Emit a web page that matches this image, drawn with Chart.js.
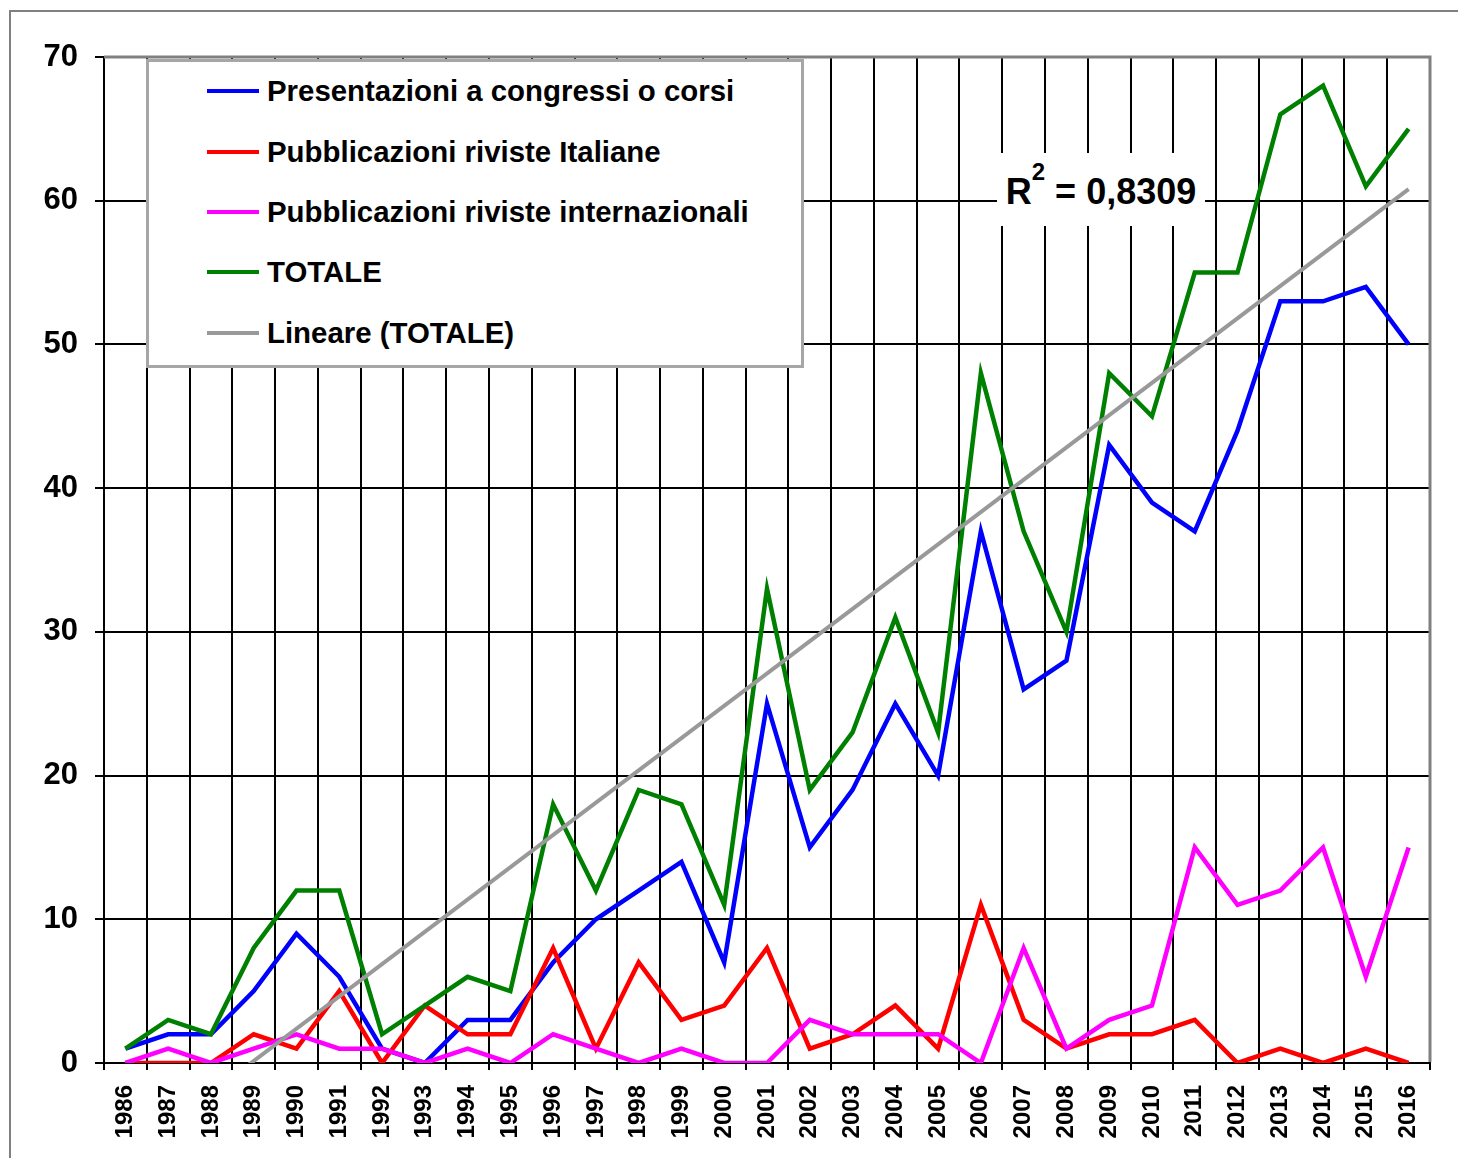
<!DOCTYPE html>
<html>
<head>
<meta charset="utf-8">
<script src="https://cdn.jsdelivr.net/npm/chart.js@4.4.1/dist/chart.umd.min.js"></script>
<style>
html,body{margin:0;padding:0;background:#fff;overflow:hidden;}
#wrap{position:relative;width:1458px;height:1158px;overflow:hidden;}
#frame{position:absolute;left:9px;top:10px;width:1600px;height:1600px;border:2px solid #808080;box-sizing:border-box;}
#c{position:absolute;left:0;top:0;}
#legend{position:absolute;left:146px;top:59px;width:658px;height:309px;border:3px solid #a6a6a6;background:#fff;box-sizing:border-box;font-family:"Liberation Sans",Arial,sans-serif;font-weight:bold;font-size:29.4px;color:#000;}
.sw{position:absolute;left:58px;width:52px;height:4px;}
.lt{position:absolute;left:118px;height:40px;line-height:40px;white-space:nowrap;}
#r2{position:absolute;left:997px;top:153px;width:208px;height:73px;background:#fff;font-family:"Liberation Sans",Arial,sans-serif;font-weight:bold;font-size:36px;color:#000;display:flex;align-items:center;justify-content:center;white-space:nowrap;padding-top:4px;box-sizing:border-box;}
#r2 sup{font-size:24px;vertical-align:baseline;position:relative;top:-20px;line-height:0;}
</style>
</head>
<body>
<div id="wrap">
  <div id="frame"></div>
  <canvas id="c" width="1458" height="1158"></canvas>
  <div id="legend"></div>
  <div id="r2">R<sup>2</sup>&nbsp;= 0,8309</div>
</div>
<script>
const categories = ['1986','1987','1988','1989','1990','1991','1992','1993','1994','1995','1996','1997','1998','1999','2000','2001','2002','2003','2004','2005','2006','2007','2008','2009','2010','2011','2012','2013','2014','2015','2016'];
const presentazioni = [1,2,2,5,9,6,1,0,3,3,7,10,12,14,7,25,15,19,25,20,37,26,28,43,39,37,44,53,53,54,50];
const italiane = [0,0,0,2,1,5,0,4,2,2,8,1,7,3,4,8,1,2,4,1,11,3,1,2,2,3,0,1,0,1,0];
const internazionali = [0,1,0,1,2,1,1,0,1,0,2,1,0,1,0,0,3,2,2,2,0,8,1,3,4,15,11,12,15,6,15];
const totale = [1,3,2,8,12,12,2,4,6,5,18,12,19,18,11,33,19,23,31,23,48,37,30,48,45,55,55,66,68,61,65];
// linear trend of TOTALE, values read at first and last year
const trendEnds = [-6.6, 60.8];
const yTicks = [0,10,20,30,40,50,60,70];
const seriesNames = ['Presentazioni a congressi o corsi','Pubblicazioni riviste Italiane','Pubblicazioni riviste internazionali','TOTALE','Lineare (TOTALE)'];
const seriesColors = ['#0000ff','#ff0000','#ff00ff','#008000','#999999'];

const trendData = categories.map((c,i)=> i===0 ? trendEnds[0] : (i===categories.length-1 ? trendEnds[1] : null));
const seriesData = [presentazioni, italiane, internazionali, totale, trendData];
const drawOrder = [4,3,2,1,0];

Chart.defaults.font.family = '"Liberation Sans", Arial, sans-serif';
Chart.defaults.color = '#000';

const plotBorder = {
  id:'plotBorder',
  beforeDatasetsDraw(chart){
    const a = chart.chartArea, ctx = chart.ctx;
    ctx.save();
    ctx.strokeStyle = '#808080';
    ctx.lineWidth = 3;
    ctx.beginPath();
    ctx.moveTo(a.left, a.top);
    ctx.lineTo(a.right, a.top);
    ctx.lineTo(a.right, a.bottom - 1);
    ctx.stroke();
    ctx.restore();
  }
};

const datasets = seriesNames.map((n,i)=>({
  label:n,
  data:seriesData[i],
  borderColor:seriesColors[i],
  backgroundColor:seriesColors[i],
  borderWidth: i===4 ? 4 : 4.5,
  pointRadius:0,
  pointHoverRadius:0,
  tension:0,
  fill:false,
  spanGaps:true,
  order:drawOrder[i],
  borderJoinStyle:'miter'
}));

new Chart(document.getElementById('c'), {
  type:'line',
  data:{labels:categories, datasets},
  plugins:[plotBorder],
  options:{
    responsive:false,
    devicePixelRatio:1,
    animation:false,
    layout:{padding:{top:57,right:28,bottom:0,left:0}},
    plugins:{legend:{display:false},tooltip:{enabled:false},title:{display:false}},
    scales:{
      x:{
        type:'category',
        offset:true,
        afterFit(s){ s.height = 95; },
        grid:{color:'#000',lineWidth:2,offset:true,tickLength:7,drawTicks:true},
        border:{display:true,color:'#000',width:2},
        ticks:{font:{size:24,weight:'bold'},color:'#000',maxRotation:90,minRotation:90,padding:15,autoSkip:false}
      },
      y:{
        min:0,max:70,
        afterFit(s){ s.width = 104; },
        afterBuildTicks(s){ s.ticks = yTicks.map(v=>({value:v})); },
        grid:{color:'#000',lineWidth:2,tickLength:9},
        border:{display:true,color:'#000',width:2},
        ticks:{stepSize:10,font:{size:31,weight:'bold'},color:'#000',padding:17}
      }
    }
  }
});

// HTML legend built from the dataset definitions
const legend = document.getElementById('legend');
const rowCenters = [29,90,150,210,271];
seriesNames.forEach((n,i)=>{
  const sw = document.createElement('div');
  sw.className='sw';
  sw.style.background = seriesColors[i];
  sw.style.top = (rowCenters[i]-2)+'px';
  legend.appendChild(sw);
  const t = document.createElement('div');
  t.className='lt';
  t.textContent = n;
  t.style.top = (rowCenters[i]-20)+'px';
  legend.appendChild(t);
});
</script>
</body>
</html>
